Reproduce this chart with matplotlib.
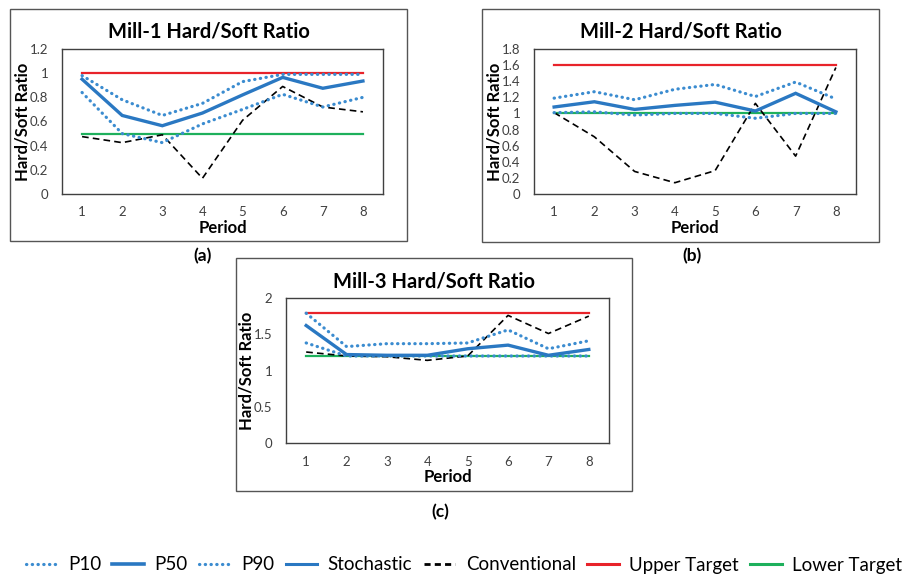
import numpy as np
import matplotlib
matplotlib.use('Agg')
from matplotlib import pyplot as plt
from matplotlib.lines import Line2D
from matplotlib.patches import Rectangle

plt.rcParams['font.family'] = ['Lato', 'DejaVu Sans']

periods = [1, 2, 3, 4, 5, 6, 7, 8]

# Mill-1
m1_p90 = [0.98, 0.78, 0.65, 0.75, 0.93, 0.99, 0.99, 0.99]
m1_p50 = [0.95, 0.65, 0.565, 0.67, 0.82, 0.965, 0.875, 0.935]
m1_p10 = [0.84, 0.50, 0.425, 0.58, 0.70, 0.825, 0.72, 0.80]
m1_conv = [0.475, 0.425, 0.49, 0.13, 0.61, 0.89, 0.72, 0.68]
m1_upper = 1.0
m1_lower = 0.5

# Mill-2
m2_p90 = [1.19, 1.27, 1.17, 1.30, 1.36, 1.21, 1.39, 1.18]
m2_p50 = [1.08, 1.145, 1.05, 1.10, 1.14, 1.03, 1.25, 1.02]
m2_p10 = [1.01, 1.02, 0.98, 1.0, 1.0, 0.94, 1.0, 1.0]
m2_conv = [1.01, 0.71, 0.28, 0.14, 0.29, 1.125, 0.47, 1.57]
m2_upper = 1.6
m2_lower = 1.0

# Mill-3
m3_p90 = [1.79, 1.33, 1.37, 1.37, 1.38, 1.56, 1.30, 1.41]
m3_p50 = [1.62, 1.22, 1.21, 1.21, 1.30, 1.35, 1.21, 1.29]
m3_p10 = [1.38, 1.20, 1.20, 1.20, 1.20, 1.20, 1.20, 1.20]
m3_conv = [1.255, 1.20, 1.19, 1.14, 1.20, 1.76, 1.51, 1.75]
m3_upper = 1.8
m3_lower = 1.2

m1_yticks = [0, 0.2, 0.4, 0.6, 0.8, 1, 1.2]
m2_yticks = [0, 0.2, 0.4, 0.6, 0.8, 1, 1.2, 1.4, 1.6, 1.8]
m3_yticks = [0, 0.5, 1, 1.5, 2]

BLUE = '#2a78c2'
BLUE_DOT = '#3b8cd0'
RED = '#e8232a'
GREEN = '#1eb05c'
TICK_GRAY = '#404040'
DOTS = (0, (0.1, 1.7))

W, H = 920, 578
fig = plt.figure(figsize=(9.2, 5.78), dpi=100)


def px_rect(x0, y0, x1, y1):
    # pixel box (top-left origin) -> figure fraction [l, b, w, h]
    return [x0 / W, 1 - y1 / H, (x1 - x0) / W, (y1 - y0) / H]


def draw_panel(box, plot, title, tag, tag_xy, p90, p50, p10, conv, upper, lower, yticks):
    l, b, w, h = px_rect(*box)
    fig.patches.append(Rectangle((l, b), w, h, transform=fig.transFigure,
                                 fill=False, edgecolor='#555555', linewidth=1.0))
    fig.text(l + w / 2, 1 - (box[1] + 23) / H, title, ha='center', va='center',
             fontsize=14.5, fontweight='bold')
    fig.text(tag_xy[0] / W, 1 - tag_xy[1] / H, tag, ha='center', va='center',
             fontsize=12.5, fontweight='bold')

    ax = fig.add_axes(px_rect(*plot))
    ax.plot(periods, [upper] * len(periods), color=RED, lw=1.6)
    ax.plot(periods, [lower] * len(periods), color=GREEN, lw=1.6)
    ax.plot(periods, conv, color='black', lw=1.2, ls=(0, (4, 2.5)))
    ax.plot(periods, p90, color=BLUE_DOT, lw=2.3, ls=DOTS, dash_capstyle='round')
    ax.plot(periods, p10, color=BLUE_DOT, lw=2.3, ls=DOTS, dash_capstyle='round')
    ax.plot(periods, p50, color=BLUE, lw=2.4, solid_joinstyle='miter')

    ax.set_xlim(0.5, 8.5)
    ax.set_ylim(yticks[0], yticks[-1])
    ax.set_xticks(periods)
    ax.set_xticklabels([str(p) for p in periods])
    ax.set_yticks(yticks)
    ax.set_yticklabels(['%g' % t for t in yticks])
    ax.tick_params(length=0, labelsize=9.5, labelcolor=TICK_GRAY)
    ax.tick_params(axis='x', pad=9)
    ax.tick_params(axis='y', pad=10)
    for s in ax.spines.values():
        s.set_color('#404040')
        s.set_linewidth(1.0)
    ax.set_xlabel('Period', fontsize=12, fontweight='bold', labelpad=1)
    ax.set_ylabel('Hard/Soft Ratio', fontsize=12, fontweight='bold')
    ax.yaxis.set_label_coords(-31 / (plot[2] - plot[0]), 0.5)
    return ax


draw_panel((10, 9, 407, 241), (62, 49, 383, 194), 'Mill-1 Hard/Soft Ratio',
           '(a)', (203, 256), m1_p90, m1_p50, m1_p10, m1_conv,
           m1_upper, m1_lower, m1_yticks)
draw_panel((482, 9, 879, 242), (534, 49, 856, 194), 'Mill-2 Hard/Soft Ratio',
           '(b)', (692, 256), m2_p90, m2_p50, m2_p10, m2_conv,
           m2_upper, m2_lower, m2_yticks)
draw_panel((236, 258, 632, 491), (286, 298, 609, 443), 'Mill-3 Hard/Soft Ratio',
           '(c)', (440, 512), m3_p90, m3_p50, m3_p10, m3_conv,
           m3_upper, m3_lower, m3_yticks)

handles = [
    Line2D([], [], color=BLUE_DOT, lw=2.3, ls=DOTS, dash_capstyle='round'),
    Line2D([], [], color=BLUE, lw=2.6),
    Line2D([], [], color=BLUE_DOT, lw=2.3, ls=DOTS, dash_capstyle='round'),
    Line2D([], [], color=BLUE, lw=2.2),
    Line2D([], [], color='black', lw=2.0, ls=(0, (2.2, 1.5))),
    Line2D([], [], color=RED, lw=2.2),
    Line2D([], [], color=GREEN, lw=2.2),
]
labels = ['P10', 'P50', 'P90', 'Stochastic', 'Conventional', 'Upper Target', 'Lower Target']
fig.legend(handles, labels, loc='center', bbox_to_anchor=(464 / W, 1 - 565 / H), ncol=7,
           frameon=False, fontsize=13.5, handlelength=1.7, handletextpad=0.55,
           columnspacing=0.6, borderaxespad=0, borderpad=0)

fig.savefig('out.png', dpi=100)
